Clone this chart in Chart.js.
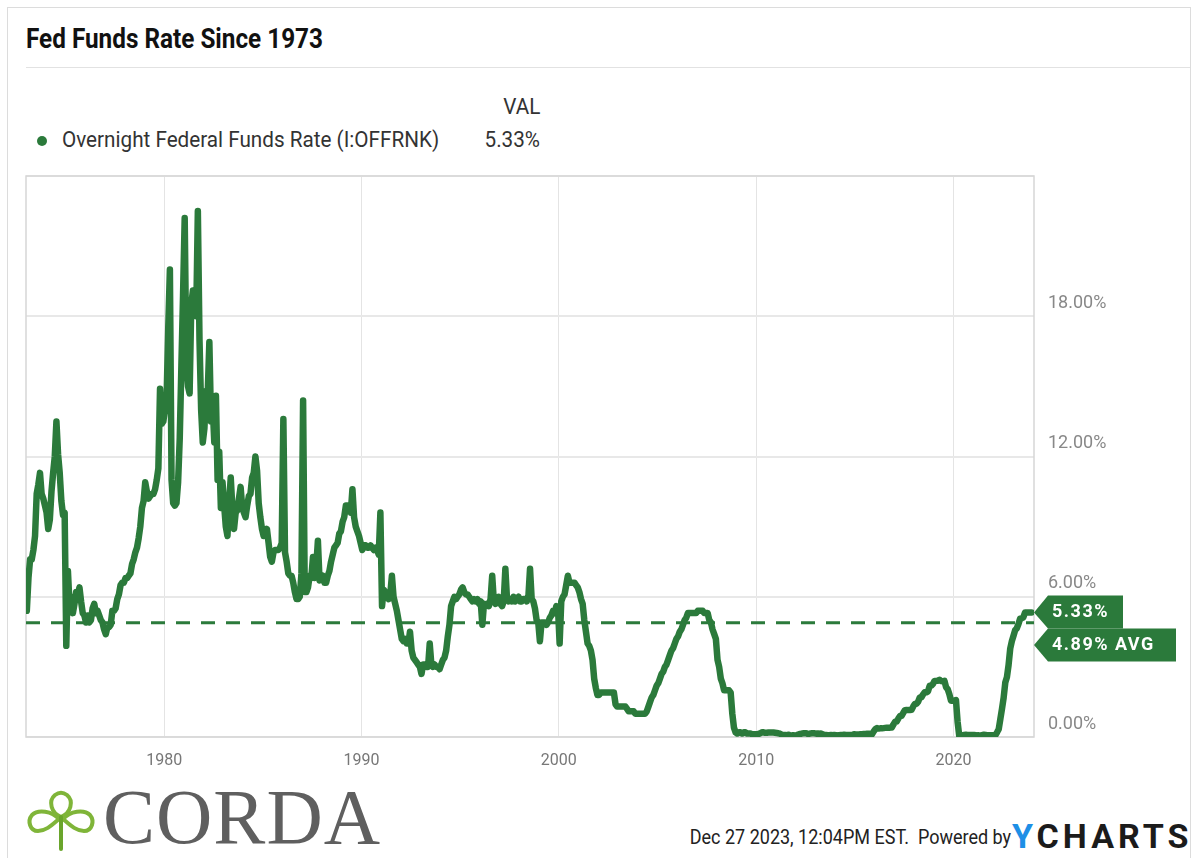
<!DOCTYPE html>
<html>
<head>
<meta charset="utf-8">
<title>Fed Funds Rate Since 1973</title>
<script src="https://cdn.jsdelivr.net/npm/chart.js@4.4.1/dist/chart.umd.min.js"></script>
<style>
  body { margin: 0; background: #fff; font-family: Roboto, "Noto Sans", sans-serif; }
  #page { position: relative; width: 1198px; height: 858px; overflow: hidden; }
  .card { position: absolute; left: 7px; top: 7px; width: 1184px; height: 900px; border: 1px solid #dcdcdc; box-sizing: border-box; }
  .title { position: absolute; left: 26px; top: 23px; font-size: 27px; font-weight: 700; color: #111; white-space: nowrap; transform: scaleX(0.9); transform-origin: left top; }
  .sep { position: absolute; left: 26px; top: 67px; width: 1164px; height: 1px; background: #e2e2e2; }
  .leg-dot { position: absolute; left: 37px; top: 136px; width: 10px; height: 10px; border-radius: 50%; background: #2b7a3b; }
  .leg-name { position: absolute; left: 62px; top: 127px; font-size: 22px; color: #333; white-space: nowrap; transform: scaleX(0.94); transform-origin: left top; }
  .leg-head { position: absolute; right: 658px; top: 94px; font-size: 22px; color: #333; white-space: nowrap; transform: scaleX(0.94); transform-origin: right top; }
  .leg-val { position: absolute; right: 658px; top: 127px; font-size: 22px; color: #333; white-space: nowrap; transform: scaleX(0.94); transform-origin: right top; }
  #wrap { position: absolute; left: 0; top: 150px; width: 1198px; height: 627px; }
  .logo { position: absolute; left: 24px; top: 787px; }
  .corda { position: absolute; left: 103px; top: 772px; font-family: "Liberation Serif", "DejaVu Serif", serif; font-size: 78px; color: #5f5f5f; letter-spacing: 1px; }
  .stamp { position: absolute; right: 187px; top: 825px; font-size: 20px; color: #222; white-space: nowrap; transform: scaleX(0.9); transform-origin: right top; }
  .ycharts { position: absolute; left: 1012px; top: 816px; font-size: 34px; font-weight: 700; letter-spacing: 4px; color: #1b1b1b; white-space: nowrap; }
  .ycharts span { color: #1d8fe6; }
</style>
</head>
<body>
<div id="page">
  <div class="card"></div>
  <div class="title">Fed Funds Rate Since 1973</div>
  <div class="sep"></div>
  <div class="leg-head">VAL</div>
  <div class="leg-dot"></div>
  <div class="leg-name">Overnight Federal Funds Rate (I:OFFRNK)</div>
  <div class="leg-val">5.33%</div>
  <div id="wrap"><canvas id="rateChart" width="1198" height="627"></canvas></div>
  <svg class="logo" width="74" height="64" viewBox="0 0 74 64">
    <g fill="none" stroke="#7fb539" stroke-width="4" stroke-linecap="round">
      <path d="M37 30 C 27 26 24 14 31 8 C 35 5 39 5 43 8 C 50 14 47 26 37 30"/>
      <path d="M35 32 C 28 24 14 22 8 28 C 3 34 6 44 14 44 C 22 44 28 38 35 32"/>
      <path d="M39 32 C 46 24 60 22 66 28 C 71 34 68 44 60 44 C 52 44 46 38 39 32"/>
      <path d="M37 30 L 37 62" stroke="#6aa52c"/>
    </g>
  </svg>
  <div class="corda">CORDA</div>
  <div class="stamp">Dec 27 2023, 12:04PM EST.&nbsp;&nbsp;Powered by</div>
  <div class="ycharts"><span>Y</span>CHARTS</div>
</div>

<script>
// monthly overnight fed funds rate, %, Jan 1973 onward
const startYear = 1973;
const rates1970s = [
  5.4, 6.8, 7.6, 7.6, 8.0, 8.6, 10.4, 10.8, 11.3, 10.4, 10.2, 9.9,
  9.6, 8.9, 9.3, 10.5, 11.3, 12.0, 13.5, 12.1, 11.3, 10.1, 9.5, 9.6,
  3.9, 7.1, 5.6, 6.0, 5.3, 5.7, 6.2, 6.1, 6.4, 5.8, 5.3, 5.2,
  4.9, 5.2, 4.9, 5.0, 5.5, 5.7, 5.3, 5.4, 5.2, 5.0, 4.9, 4.6,
  4.4, 4.7, 4.7, 4.8, 5.4, 5.4, 5.5, 5.9, 6.1, 6.5, 6.6, 6.6,
  6.8, 6.8, 6.9, 7.0, 7.4, 7.6, 7.9, 8.1, 8.5, 9.0, 9.8, 10.1,
  10.9, 10.5, 10.2, 10.3, 10.4, 10.4, 10.6, 11.0, 11.5, 14.9, 13.4, 13.5
];
const rates1980s = [
  14.0, 14.5, 17.5, 20.0, 11.0, 10.0, 9.9, 10.0, 10.9, 12.8, 15.9, 18.9,
  22.2, 16.0, 15.0, 14.7, 18.5, 19.1, 19.0, 18.0, 22.5, 17.0, 14.0, 12.6,
  13.2, 14.8, 14.7, 16.9, 13.5, 14.2, 12.6, 14.6, 11.0, 12.2, 9.8, 10.9,
  9.9, 9.0, 8.6, 10.0, 11.1, 9.8, 8.9, 9.6, 9.7, 10.2, 10.7, 9.8,
  9.6, 9.4, 9.9, 10.3, 10.4, 11.1, 11.3, 12.0, 11.4, 10.0, 9.4, 8.9,
  8.6, 8.7, 8.9, 8.3, 7.7, 7.5, 7.9, 8.0, 8.0, 8.0, 8.1, 8.3,
  13.6, 7.9, 7.5, 7.0, 6.9, 6.9, 6.6, 6.2, 5.9, 5.9, 6.0, 7.0,
  14.4, 6.2, 6.2, 6.4, 6.9, 6.8, 7.7, 6.8, 7.3, 8.4, 6.7, 6.8,
  6.9, 6.6, 6.6, 6.9, 7.1, 7.5, 7.8, 8.1, 8.2, 8.3, 8.7, 8.8,
  9.2, 9.4, 9.9, 9.9, 9.8, 9.6, 10.6, 9.4, 9.0, 8.8, 8.6, 8.3
];
const rates1990s = [
  8.0, 8.2, 8.2, 8.1, 8.1, 8.2, 8.1, 8.0, 8.1, 8.0, 7.8, 9.6,
  5.6, 6.3, 6.2, 6.0, 5.9, 6.1, 6.9, 6.0, 5.7, 5.4, 5.0, 4.6,
  4.2, 4.1, 4.2, 4.0, 4.0, 4.5, 3.7, 3.4, 3.3, 3.2, 3.1, 3.0,
  2.7, 3.1, 3.1, 3.0, 3.0, 4.0, 3.1, 3.0, 3.1, 3.0, 3.0, 2.9,
  3.1, 3.3, 3.4, 3.7, 4.3, 4.8, 5.6, 5.8, 6.0, 5.9, 6.0, 6.1,
  6.3, 6.4, 6.2, 6.1, 6.1, 6.0, 5.9, 5.8, 5.9, 5.8, 5.9, 5.7,
  5.8, 4.8, 5.7, 5.6, 5.7, 5.6, 5.9, 6.9, 5.8, 5.7, 5.8, 6.0,
  5.7, 5.6, 5.8, 7.2, 5.9, 5.8, 5.9, 5.8, 6.0, 5.8, 5.9, 6.0,
  5.8, 5.8, 5.9, 5.9, 5.8, 6.0, 7.2, 5.9, 5.8, 5.5, 5.0, 4.9,
  4.1, 4.9, 4.9, 4.9, 4.8, 4.9, 5.1, 5.2, 5.4, 5.3, 5.6, 5.5
];
const rates2000s = [
  4.0, 5.8, 6.0, 6.1, 6.5, 6.9, 6.6, 6.6, 6.6, 6.6, 6.5, 6.4,
  6.2, 5.9, 5.7, 5.0, 4.5, 4.0, 3.9, 3.7, 3.3, 2.5, 2.1, 1.8,
  1.8, 1.9, 1.9, 1.9, 1.9, 1.9, 1.9, 1.9, 1.9, 1.9, 1.4, 1.3,
  1.3, 1.3, 1.3, 1.3, 1.3, 1.2, 1.1, 1.1, 1.1, 1.1, 1.0, 1.0,
  1.0, 1.0, 1.0, 1.0, 1.0, 1.1, 1.3, 1.5, 1.7, 1.8, 2.0, 2.2,
  2.3, 2.5, 2.7, 2.8, 3.0, 3.1, 3.3, 3.5, 3.7, 3.8, 4.0, 4.2,
  4.3, 4.5, 4.6, 4.8, 5.0, 5.1, 5.3, 5.3, 5.3, 5.3, 5.3, 5.3,
  5.4, 5.4, 5.4, 5.4, 5.3, 5.3, 5.3, 5.0, 4.9, 4.6, 4.4, 4.2,
  3.3, 3.0, 2.5, 2.3, 2.0, 2.0, 2.0, 2.0, 1.9, 1.0, 0.4, 0.2,
  0.15, 0.2, 0.2, 0.15, 0.2, 0.2, 0.15, 0.15, 0.15, 0.12, 0.12, 0.12
];
const rates2010s = [
  0.11, 0.13, 0.16, 0.2, 0.2, 0.18, 0.18, 0.19, 0.19, 0.19, 0.19, 0.18,
  0.17, 0.16, 0.14, 0.1, 0.09, 0.09, 0.07, 0.1, 0.08, 0.07, 0.08, 0.07,
  0.08, 0.1, 0.13, 0.14, 0.16, 0.16, 0.16, 0.13, 0.14, 0.16, 0.16, 0.16,
  0.14, 0.15, 0.14, 0.15, 0.11, 0.09, 0.09, 0.08, 0.08, 0.09, 0.08, 0.09,
  0.07, 0.07, 0.08, 0.09, 0.09, 0.1, 0.09, 0.09, 0.09, 0.09, 0.09, 0.12,
  0.11, 0.11, 0.11, 0.12, 0.12, 0.13, 0.13, 0.14, 0.14, 0.12, 0.12, 0.24,
  0.34, 0.38, 0.36, 0.37, 0.37, 0.38, 0.39, 0.4, 0.4, 0.4, 0.41, 0.54,
  0.65, 0.66, 0.79, 0.9, 0.91, 1.04, 1.15, 1.16, 1.15, 1.15, 1.16, 1.3,
  1.41, 1.42, 1.51, 1.69, 1.7, 1.82, 1.91, 1.91, 1.95, 2.19, 2.2, 2.27,
  2.4, 2.4, 2.41, 2.45, 2.39, 2.38, 2.4, 2.13, 2.04, 1.83, 1.55, 1.55
];
const rates2020s = [
  1.55, 1.58, 0.65, 0.05, 0.05, 0.08, 0.09, 0.1, 0.09, 0.09, 0.09, 0.09,
  0.09, 0.08, 0.07, 0.07, 0.06, 0.08, 0.1, 0.09, 0.08, 0.08, 0.08, 0.08,
  0.08, 0.08, 0.2, 0.33, 0.77, 1.21, 1.68, 2.33, 2.56, 3.08, 3.78, 4.1,
  4.33, 4.57, 4.65, 4.83, 5.06, 5.08, 5.12, 5.33, 5.33, 5.33, 5.33, 5.33
];

const lastValue = 5.33;
const avgValue = 4.89;
const yearTicks = [1980, 1990, 2000, 2010, 2020];
const yTicks = [0, 6, 12, 18, 24];
const xRange = [1973, 2024.08];

const green = '#2b7a3b';

const allRates = rates1970s.concat(rates1980s, rates1990s, rates2000s, rates2010s, rates2020s);
const ratePoints = allRates.map((v, i) => ({ x: startYear + (i + 0.5) / 12, y: v }));
const avgPoints = xRange.map(x => ({ x: x, y: avgValue }));

// plot frame + value tags on the right edge
const tagPlugin = {
  id: 'tags',
  beforeDatasetsDraw(chart) {
    const { ctx, chartArea } = chart;
    ctx.save();
    ctx.strokeStyle = '#d6d6d6';
    ctx.lineWidth = 1.5;
    ctx.strokeRect(chartArea.left, chartArea.top, chartArea.width, chartArea.height);
    ctx.restore();
  },
  afterDatasetsDraw(chart) {
    const { ctx, chartArea, scales } = chart;
    const tipX = chartArea.right;
    const boxX = tipX + 14;
    const h = 33;

    function drawTag(text, tipY, top, width) {
      ctx.beginPath();
      ctx.moveTo(tipX, tipY);
      ctx.lineTo(boxX, top);
      ctx.lineTo(boxX + width, top);
      ctx.lineTo(boxX + width, top + h);
      ctx.lineTo(boxX, top + h);
      ctx.closePath();
      ctx.fillStyle = green;
      ctx.fill();
      ctx.fillStyle = '#fff';
      ctx.font = 'bold 18px Roboto, sans-serif';
      ctx.textBaseline = 'middle';
      ctx.textAlign = 'left';
      if ('letterSpacing' in ctx) ctx.letterSpacing = '1.5px';
      ctx.fillText(text, boxX + 4, top + h / 2 + 1);
      if ('letterSpacing' in ctx) ctx.letterSpacing = '0px';
    }

    ctx.save();
    const y1 = scales.y.getPixelForValue(lastValue);
    const top1 = y1 - 17;
    drawTag(lastValue.toFixed(2) + '%', y1, top1, 75);
    const top2 = top1 + h;
    drawTag(avgValue.toFixed(2) + '% AVG', top2 + h / 2, top2, 128);
    ctx.restore();
  }
};

const ctx = document.getElementById('rateChart').getContext('2d');
new Chart(ctx, {
  type: 'line',
  data: {
    datasets: [
      {
        label: 'Overnight Federal Funds Rate (I:OFFRNK)',
        data: ratePoints,
        borderColor: green,
        borderWidth: 6.5,
        borderJoinStyle: 'round',
        borderCapStyle: 'round',
        pointRadius: 0,
        tension: 0,
        order: 1
      },
      {
        label: 'Average',
        data: avgPoints,
        borderColor: green,
        borderWidth: 3,
        borderDash: [14, 11],
        pointRadius: 0,
        order: 2
      }
    ]
  },
  options: {
    responsive: false,
    animation: false,
    layout: { padding: { left: 26, top: 26, right: 0, bottom: 0 } },
    plugins: {
      legend: { display: false },
      tooltip: { enabled: false }
    },
    scales: {
      x: {
        type: 'linear',
        min: xRange[0],
        max: xRange[1],
        afterBuildTicks: axis => { axis.ticks = yearTicks.map(v => ({ value: v })); },
        afterFit: axis => { axis.height = 40; },
        grid: { color: '#e4e4e4', lineWidth: 1, drawTicks: false },
        border: { display: false },
        ticks: {
          padding: 14,
          color: '#777',
          font: { family: 'Roboto', size: 16 },
          callback: v => String(v)
        }
      },
      y: {
        position: 'right',
        min: 0,
        max: 24,
        afterBuildTicks: axis => { axis.ticks = yTicks.map(v => ({ value: v })); },
        afterFit: axis => { axis.width = 164; },
        grid: { color: '#e8e8e8', lineWidth: 2, drawTicks: false },
        border: { display: false },
        ticks: {
          padding: 14,
          labelOffset: -13,
          color: '#888',
          font: { family: 'Roboto', size: 18 },
          callback: v => (v === 24 ? '' : v.toFixed(2) + '%')
        }
      }
    }
  },
  plugins: [tagPlugin]
});
</script>
</body>
</html>
